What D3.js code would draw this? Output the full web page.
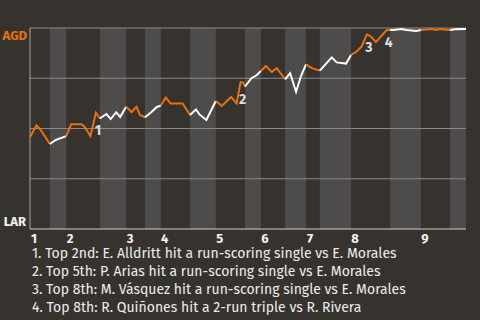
<!DOCTYPE html>
<html>
<head>
<meta charset="utf-8">
<script src="https://cdn.jsdelivr.net/npm/d3@7"></script>
<style>
  body { margin: 0; background: #36332f; }
  text { font-family: "Fira Sans", Lato, "Noto Sans", sans-serif; }
</style>
</head>
<body>
<script>
// Half-inning boundaries, in plate-appearance units along the x axis
const halfBounds = [0, 4.0, 7.3, 14.1, 19.4, 23.2, 26.4, 32.3, 37.5, 43.4, 46.6, 51.5, 55.7, 58.5, 64.8, 72.7, 78.9, 84.8, 88];
const innings = ["1", "2", "3", "4", "5", "6", "7", "8", "9"];

// Game progress and AGD win probability after each event
const progress = [0, 1.3, 2.1, 4.0, 5.2, 7.3, 8.3, 10.4, 11.0, 12.2, 13.3, 14.1,
    15.4, 16.3, 17.4, 18.2, 19.4, 20.5, 21.5, 22.2, 23.2, 24.4, 25.6, 26.4,
    27.4, 28.4, 30.8, 32.3, 33.5, 34.2, 35.6, 37.5, 38.7, 40.6, 41.7, 42.5,
    43.0, 43.4, 44.7, 45.8, 46.6, 47.6, 48.8, 49.8, 51.5, 52.5, 53.7, 54.7,
    55.7, 56.9, 58.5, 60.9, 61.9, 63.8, 64.8, 65.9, 66.9, 68.0, 68.8, 69.8,
    72.0, 72.7, 73.3, 75.0, 76.0, 78.0, 78.9, 81.1, 81.9, 82.8, 84.4, 84.8,
    85.8, 88.0];
const winProb = [0.458, 0.515, 0.495, 0.423, 0.443, 0.462, 0.521, 0.521, 0.509, 0.463, 0.579, 0.550,
    0.572, 0.547, 0.581, 0.557, 0.608, 0.582, 0.608, 0.567, 0.556, 0.580, 0.607, 0.614,
    0.654, 0.624, 0.624, 0.567, 0.595, 0.570, 0.542, 0.637, 0.612, 0.657, 0.625, 0.731,
    0.729, 0.709, 0.750, 0.766, 0.786, 0.811, 0.781, 0.800, 0.745, 0.775, 0.683, 0.761,
    0.819, 0.800, 0.788, 0.854, 0.829, 0.823, 0.866, 0.882, 0.907, 0.968, 0.958, 0.930,
    0.990, 0.990, 0.990, 0.995, 0.990, 0.985, 0.990, 0.995, 0.990, 0.995, 0.990, 0.990,
    0.994, 0.995];

// Key plays
const eventAt = [13.3, 42.5, 68.0, 72.0];
const eventText = [
    "1. Top 2nd: E. Alldritt hit a run-scoring single vs E. Morales",
    "2. Top 5th: P. Arias hit a run-scoring single vs E. Morales",
    "3. Top 8th: M. Vásquez hit a run-scoring single vs E. Morales",
    "4. Top 8th: R. Quiñones hit a 2-run triple vs R. Rivera"
];

const width = 480, height = 320;
const orange = "#e8700f";

const svg = d3.select("body").append("svg")
    .attr("width", width)
    .attr("height", height);

const x = d3.scaleLinear().domain([0, 88]).range([30, 466]);
const y = d3.scaleLinear().domain([0, 1]).range([229, 28]);

const points = progress.map((t, i) => ({t: t, p: winProb[i]}));

// Bottom halves get a lighter band
const halves = d3.range(halfBounds.length - 1).map(i => ({
    start: halfBounds[i], end: halfBounds[i + 1], bottom: i % 2 === 1
}));

svg.selectAll(".band")
    .data(halves.filter(h => h.bottom))
    .join("rect")
    .attr("class", "band")
    .attr("x", d => x(d.start))
    .attr("width", d => x(d.end) - x(d.start))
    .attr("y", y(1))
    .attr("height", y(0) - y(1))
    .attr("fill", "#4e4c4a");

// Grid lines
svg.selectAll(".grid")
    .data([0.25, 0.5, 0.75, 1])
    .join("line")
    .attr("class", "grid")
    .attr("x1", x(0)).attr("x2", x(88))
    .attr("y1", d => y(d)).attr("y2", d => y(d))
    .attr("stroke", "#8c8a87")
    .attr("stroke-width", 1);

svg.append("line")
    .attr("x1", x(0)).attr("x2", x(0))
    .attr("y1", y(1)).attr("y2", y(0))
    .attr("stroke", "#a8a6a3");

svg.append("line")
    .attr("x1", x(0)).attr("x2", x(88))
    .attr("y1", y(0)).attr("y2", y(0))
    .attr("stroke", "#cfcdca");

// Team labels
svg.append("text")
    .attr("x", 27).attr("y", 40)
    .attr("text-anchor", "end")
    .attr("font-size", 13).attr("font-weight", "bold")
    .attr("fill", orange)
    .text("AGD");

svg.append("text")
    .attr("x", 26).attr("y", 226)
    .attr("text-anchor", "end")
    .attr("font-size", 13).attr("font-weight", "bold")
    .attr("fill", "#f2f2f2")
    .text("LAR");

// Inning labels at the start of each top half
svg.selectAll(".inning")
    .data(innings)
    .join("text")
    .attr("class", "inning")
    .attr("x", (d, i) => x(halfBounds[i * 2]) + 4)
    .attr("y", 243)
    .attr("text-anchor", "middle")
    .attr("font-size", 13).attr("font-weight", "bold")
    .attr("fill", "#f2f2f2")
    .text(d => d);

// Win probability line, coloured by half inning
const line = d3.line().x(d => x(d.t)).y(d => y(d.p));

svg.selectAll(".wp")
    .data(halves)
    .join("path")
    .attr("class", "wp")
    .attr("d", h => line(points.filter(d => d.t >= h.start && d.t <= h.end)))
    .attr("fill", "none")
    .attr("stroke", h => h.bottom ? "#ffffff" : orange)
    .attr("stroke-width", 2)
    .attr("stroke-linejoin", "miter");

// Event markers
svg.selectAll(".mark")
    .data(eventAt)
    .join("text")
    .attr("class", "mark")
    .attr("x", t => x(t) + 2)
    .attr("y", t => {
        const i = progress.indexOf(t);
        return (y(winProb[i]) + y(winProb[i - 1])) / 2 + 11;
    })
    .attr("text-anchor", "middle")
    .attr("font-size", 14).attr("font-weight", "bold")
    .attr("fill", "#dddddd")
    .text((t, i) => i + 1);

// Event descriptions
svg.selectAll(".desc")
    .data(eventText)
    .join("text")
    .attr("class", "desc")
    .attr("x", 32)
    .attr("y", (d, i) => 258 + i * 18)
    .attr("font-size", 14)
    .attr("fill", "#ececec")
    .text(d => d);
</script>
</body>
</html>
